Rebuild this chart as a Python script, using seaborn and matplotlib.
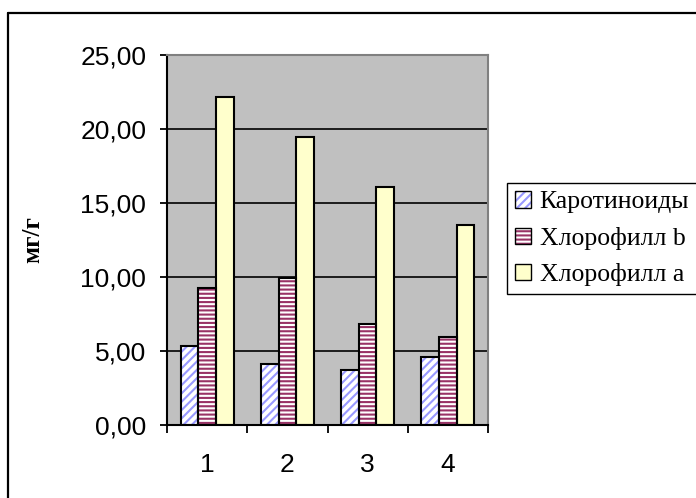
import matplotlib
matplotlib.use("Agg")
import matplotlib.pyplot as plt
import seaborn as sns
import pandas as pd
from matplotlib.patches import Rectangle, Patch
from matplotlib.lines import Line2D
from matplotlib.legend_handler import HandlerTuple

# ---- data ----
categories = ["1", "2", "3", "4"]
series = ["Каротиноиды", "Хлорофилл b", "Хлорофилл a"]
carotenoids = [5.35, 4.12, 3.72, 4.60]
chlorophyll_b = [9.24, 9.93, 6.85, 5.97]
chlorophyll_a = [22.14, 19.46, 16.10, 13.50]
y_ticks = [0, 5, 10, 15, 20, 25]
y_tick_labels = ["0,00", "5,00", "10,00", "15,00", "20,00", "25,00"]
y_label = "мг/г"

rows = []
for s, vals in zip(series, [carotenoids, chlorophyll_b, chlorophyll_a]):
    for c, v in zip(categories, vals):
        rows.append({"cat": c, "series": s, "value": v})
df = pd.DataFrame(rows)

# styles: face, hatch, hatch colour
styles = [
    ("white", "////", "#9999FF"),
    ("white", "----", "#993366"),
    ("#FFFFCC", "", "#FFFFCC"),
]

sns.set_theme(style="white")
plt.rcParams['font.family'] = ['Liberation Sans', 'DejaVu Sans']
plt.rcParams['hatch.linewidth'] = 1.5

fig = plt.figure(figsize=(6.96, 4.98), dpi=100)
W, H = 696, 498
ax = fig.add_axes([167 / W, 1 - 425 / H, (488 - 167) / W, (425 - 55) / H])
ax.set_facecolor("#C0C0C0")

sns.barplot(data=df, x="cat", y="value", hue="series", order=categories,
            hue_order=series, palette=[s[0] for s in styles], width=0.66,
            gap=0, saturation=1, errorbar=None, legend=False, ax=ax)

for container, (face, hatch, hc) in zip(ax.containers, styles):
    for bar in container:
        bar.set_facecolor(face)
        bar.set_hatch(hatch)
        bar.set_edgecolor(hc)
        bar.set_linewidth(0)
        ax.add_patch(Rectangle(bar.get_xy(), bar.get_width(), bar.get_height(),
                               fill=False, edgecolor="black", linewidth=1.5,
                               zorder=bar.get_zorder() + 0.1))

ax.set_axisbelow(True)
ax.set_ylim(0, 25)
ax.set_xlim(-0.5, len(categories) - 0.5)
ax.set_yticks(y_ticks)
ax.set_yticklabels(y_tick_labels)
ax.yaxis.grid(True, color="black", linewidth=1.2)
ax.xaxis.grid(False)

ax.set_xticks(range(len(categories)))
ax.set_xticklabels(categories)
ax.set_xticks([i - 0.5 for i in range(len(categories) + 1)], minor=True)
ax.tick_params(axis="x", which="major", length=0, pad=20, labelsize=19, colors="black")
ax.tick_params(axis="x", which="minor", length=6, width=1.3, direction="out", bottom=True, color="black")
ax.tick_params(axis="y", which="major", length=5, width=1.3, direction="out", left=True,
               pad=10, labelsize=19, colors="black")
ax.set_xlabel("")
ax.set_ylabel(y_label, fontsize=18, fontweight="bold",
              family=["Liberation Serif", "DejaVu Serif"], color="black")
ax.yaxis.set_label_coords((44 - 167) / (488 - 167), 0.5)

for side in ["left", "bottom"]:
    ax.spines[side].set_color("black")
    ax.spines[side].set_linewidth(1.5)
for side in ["top", "right"]:
    ax.spines[side].set_color("#808080")
    ax.spines[side].set_linewidth(1.5)

# legend
handles = []
for face, hatch, hc in styles:
    hp = Patch(facecolor=face, hatch=hatch, edgecolor=hc, linewidth=0)
    op = Patch(facecolor="none", edgecolor="black", linewidth=1.0)
    handles.append((hp, op))
leg = fig.legend(handles, series, handler_map={tuple: HandlerTuple(ndivide=1)},
                 loc="upper left", bbox_to_anchor=(507 / W, 1 - 183 / H),
                 bbox_transform=fig.transFigure, borderaxespad=0,
                 prop={"family": ["Liberation Serif", "DejaVu Serif"], "size": 18.5},
                 handlelength=0.6, handleheight=0.6, handletextpad=0.35,
                 labelspacing=0.52, borderpad=0.32, frameon=True, fancybox=False,
                 framealpha=1, edgecolor="black")
leg.get_frame().set_linewidth(1.0)
for t in leg.get_texts():
    t.set_color("black")

# outer chart border
fig.add_artist(Line2D([8 / W, 8 / W], [-0.1, 1 - 13 / H], transform=fig.transFigure,
                      color="black", linewidth=1.6))
fig.add_artist(Line2D([8 / W, 1.1], [1 - 13 / H, 1 - 13 / H], transform=fig.transFigure,
                      color="black", linewidth=1.6))

fig.savefig("out.png", dpi=100)
